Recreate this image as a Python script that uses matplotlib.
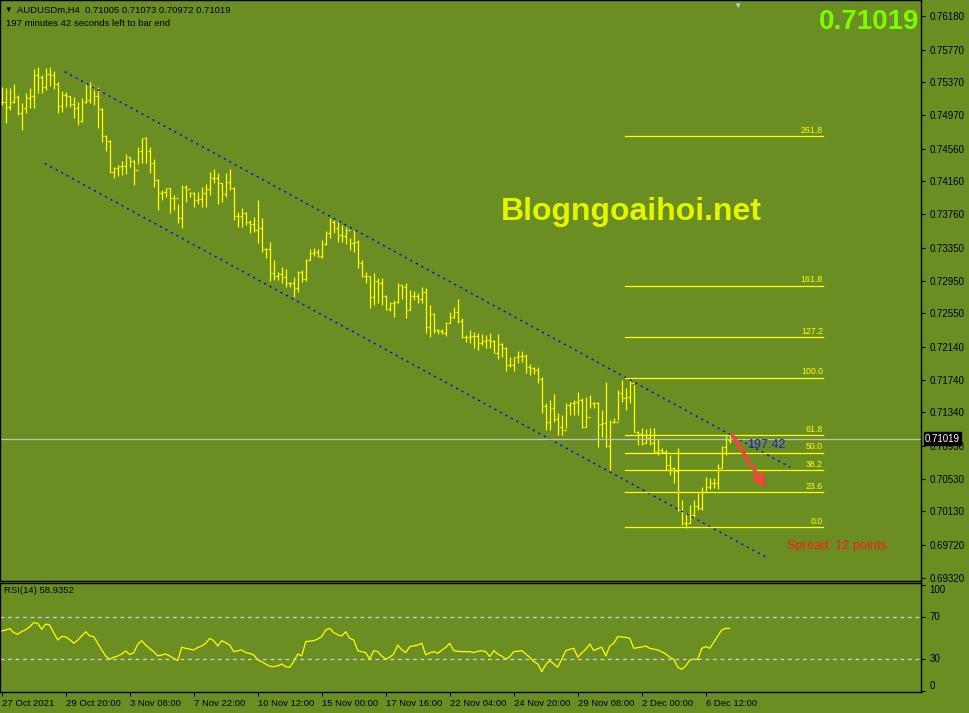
import numpy as np
import matplotlib
matplotlib.use("Agg")
import matplotlib.pyplot as plt
import matplotlib.patheffects as pe

plt.rcParams['font.family'] = ['Liberation Sans', 'DejaVu Sans']

# header info
symbol = "AUDUSDm,H4"
last_open, last_high, last_low, last_close = 0.71005, 0.71073, 0.70972, 0.71019
bar_timer = "197 minutes 42 seconds left to bar end"
rsi_period = 14
spread_text = "Spread: 12 points"
countdown = "197:42"
watermark = "Blogngoaihoi.net"

# H4 bars
high = [0.7531, 0.7530, 0.7530, 0.7535, 0.7522, 0.7512, 0.7524, 0.7530, 0.7553, 0.7556,
        0.7546, 0.7554, 0.7556, 0.7551, 0.7537, 0.7526, 0.7525, 0.7520, 0.7519, 0.7513,
        0.7518, 0.7535, 0.7537, 0.7528, 0.7531, 0.7506, 0.7473, 0.7467, 0.7434, 0.7436,
        0.7441, 0.7450, 0.7446, 0.7442, 0.7458, 0.7469, 0.7470, 0.7458, 0.7443, 0.7419,
        0.7406, 0.7408, 0.7408, 0.7399, 0.7389, 0.7412, 0.7412, 0.7403, 0.7403, 0.7403,
        0.7409, 0.7413, 0.7427, 0.7431, 0.7426, 0.7414, 0.7426, 0.7431, 0.7409, 0.7379,
        0.7384, 0.7379, 0.7369, 0.7373, 0.7393, 0.7371, 0.7335, 0.7342, 0.7320, 0.7305,
        0.7311, 0.7309, 0.7293, 0.7299, 0.7307, 0.7308, 0.7321, 0.7333, 0.7335, 0.7333,
        0.7345, 0.7355, 0.7371, 0.7369, 0.7368, 0.7363, 0.7360, 0.7347, 0.7357, 0.7345,
        0.7320, 0.7305, 0.7301, 0.7304, 0.7298, 0.7298, 0.7277, 0.7269, 0.7271, 0.7292,
        0.7290, 0.7292, 0.7283, 0.7282, 0.7280, 0.7287, 0.7286, 0.7265, 0.7255, 0.7236,
        0.7236, 0.7244, 0.7256, 0.7263, 0.7273, 0.7249, 0.7228, 0.7235, 0.7232, 0.7231,
        0.7230, 0.7228, 0.7231, 0.7222, 0.7230, 0.7219, 0.7214, 0.7202, 0.7202, 0.7209,
        0.7209, 0.7205, 0.7193, 0.7190, 0.7190, 0.7177, 0.7145, 0.7149, 0.7157, 0.7133,
        0.7131, 0.7145, 0.7147, 0.7149, 0.7159, 0.7152, 0.7153, 0.7155, 0.7147, 0.7147,
        0.7137, 0.7171, 0.7125, 0.7127, 0.7161, 0.7174, 0.7164, 0.7174, 0.7168, 0.7111,
        0.7115, 0.7114, 0.7115, 0.7115, 0.7102, 0.7090, 0.7088, 0.7082, 0.7067, 0.7090,
        0.7027, 0.7011, 0.7021, 0.7027, 0.7035, 0.7043, 0.7055, 0.7054, 0.7054, 0.7071,
        0.7093, 0.7106, 0.71073]
low = [0.7509, 0.7487, 0.7503, 0.7512, 0.7497, 0.7479, 0.7500, 0.7506, 0.7506, 0.7524,
       0.7524, 0.7528, 0.7533, 0.7529, 0.7500, 0.7501, 0.7507, 0.7507, 0.7493, 0.7485,
       0.7489, 0.7512, 0.7512, 0.7509, 0.7481, 0.7464, 0.7453, 0.7426, 0.7420, 0.7423,
       0.7424, 0.7425, 0.7434, 0.7412, 0.7437, 0.7438, 0.7438, 0.7426, 0.7409, 0.7381,
       0.7393, 0.7397, 0.7377, 0.7381, 0.7365, 0.7359, 0.7391, 0.7397, 0.7385, 0.7389,
       0.7385, 0.7385, 0.7399, 0.7414, 0.7389, 0.7391, 0.7397, 0.7406, 0.7369, 0.7360,
       0.7360, 0.7363, 0.7353, 0.7354, 0.7341, 0.7330, 0.7323, 0.7294, 0.7296, 0.7296,
       0.7292, 0.7287, 0.7287, 0.7275, 0.7281, 0.7293, 0.7294, 0.7320, 0.7325, 0.7324,
       0.7323, 0.7338, 0.7347, 0.7353, 0.7342, 0.7342, 0.7340, 0.7332, 0.7330, 0.7310,
       0.7299, 0.7292, 0.7261, 0.7265, 0.7268, 0.7265, 0.7259, 0.7258, 0.7250, 0.7268,
       0.7273, 0.7249, 0.7259, 0.7271, 0.7268, 0.7268, 0.7231, 0.7226, 0.7231, 0.7230,
       0.7230, 0.7227, 0.7243, 0.7249, 0.7243, 0.7225, 0.7220, 0.7219, 0.7212, 0.7210,
       0.7216, 0.7212, 0.7213, 0.7206, 0.7199, 0.7202, 0.7185, 0.7189, 0.7184, 0.7194,
       0.7196, 0.7182, 0.7180, 0.7181, 0.7170, 0.7133, 0.7113, 0.7113, 0.7122, 0.7106,
       0.7106, 0.7115, 0.7131, 0.7131, 0.7131, 0.7115, 0.7116, 0.7139, 0.7139, 0.7092,
       0.7104, 0.7092, 0.7064, 0.7121, 0.7125, 0.7147, 0.7137, 0.7145, 0.7110, 0.7094,
       0.7094, 0.7096, 0.7094, 0.7084, 0.7082, 0.7084, 0.7064, 0.7058, 0.7048, 0.7013,
       0.6997, 0.6993, 0.6999, 0.7006, 0.7015, 0.7015, 0.7037, 0.7040, 0.7042, 0.7040,
       0.7066, 0.7082, 0.70972]
close = [0.7513, 0.7507, 0.7513, 0.7519, 0.7500, 0.7506, 0.7518, 0.7520, 0.7546, 0.7544,
         0.7531, 0.7547, 0.7546, 0.7535, 0.7508, 0.7522, 0.7520, 0.7511, 0.7506, 0.7490,
         0.7513, 0.7515, 0.7533, 0.7520, 0.7504, 0.7471, 0.7465, 0.7427, 0.7432, 0.7435,
         0.7435, 0.7446, 0.7441, 0.7430, 0.7453, 0.7469, 0.7453, 0.7438, 0.7418, 0.7402,
         0.7403, 0.7408, 0.7396, 0.7396, 0.7371, 0.7409, 0.7407, 0.7402, 0.7393, 0.7394,
         0.7402, 0.7407, 0.7420, 0.7420, 0.7414, 0.7401, 0.7415, 0.7408, 0.7374, 0.7374,
         0.7377, 0.7366, 0.7364, 0.7357, 0.7359, 0.7333, 0.7333, 0.7304, 0.7301, 0.7303,
         0.7299, 0.7292, 0.7292, 0.7286, 0.7305, 0.7297, 0.7320, 0.7329, 0.7330, 0.7325,
         0.7340, 0.7353, 0.7366, 0.7359, 0.7351, 0.7349, 0.7357, 0.7341, 0.7342, 0.7316,
         0.7300, 0.7301, 0.7275, 0.7294, 0.7292, 0.7276, 0.7260, 0.7268, 0.7269, 0.7289,
         0.7287, 0.7259, 0.7276, 0.7276, 0.7272, 0.7281, 0.7238, 0.7254, 0.7235, 0.7233,
         0.7231, 0.7243, 0.7250, 0.7256, 0.7245, 0.7226, 0.7226, 0.7227, 0.7227, 0.7219,
         0.7221, 0.7222, 0.7221, 0.7206, 0.7218, 0.7212, 0.7192, 0.7192, 0.7202, 0.7203,
         0.7203, 0.7189, 0.7188, 0.7186, 0.7175, 0.7142, 0.7122, 0.7139, 0.7126, 0.7116,
         0.7113, 0.7143, 0.7145, 0.7147, 0.7149, 0.7116, 0.7128, 0.7145, 0.7145, 0.7120,
         0.7121, 0.7093, 0.7122, 0.7122, 0.7158, 0.7152, 0.7153, 0.7170, 0.7110, 0.7107,
         0.7096, 0.7103, 0.7097, 0.7086, 0.7088, 0.7086, 0.7070, 0.7066, 0.7062, 0.7015,
         0.6999, 0.6999, 0.7009, 0.7020, 0.7017, 0.7037, 0.7043, 0.7048, 0.7048, 0.7066,
         0.7092, 0.7103, 0.71019]
rsi = [56.5, 57.5, 58.8, 55.0, 53.5, 56.0, 57.8, 60.5, 64.4, 63.8,
       58.1, 63.1, 62.2, 55.0, 48.1, 51.5, 51.0, 48.5, 45.0, 48.0,
       52.0, 55.9, 51.9, 51.3, 45.0, 38.8, 33.0, 30.0, 31.9, 33.0,
       35.0, 37.8, 34.5, 36.0, 44.0, 47.5, 43.4, 40.0, 37.2, 33.1,
       34.0, 35.0, 33.1, 31.0, 28.8, 41.3, 40.3, 39.5, 38.8, 41.0,
       42.5, 45.0, 49.7, 47.5, 42.5, 47.5, 45.5, 43.4, 37.2, 38.0,
       38.8, 36.3, 35.5, 34.1, 29.4, 27.8, 25.5, 23.5, 23.1, 23.8,
       25.6, 23.1, 22.5, 28.0, 35.0, 33.1, 46.6, 47.0, 47.5, 49.0,
       51.3, 57.5, 59.1, 55.0, 53.0, 51.9, 55.9, 49.7, 48.1, 38.1,
       37.0, 36.3, 30.0, 38.1, 37.2, 33.1, 30.0, 32.0, 35.0, 43.4,
       39.0, 36.3, 41.9, 42.5, 43.4, 45.0, 34.1, 36.0, 37.2, 35.6,
       38.5, 41.3, 45.0, 38.1, 37.5, 37.2, 37.2, 37.2, 36.3, 37.5,
       38.1, 37.2, 32.5, 38.1, 35.0, 33.0, 30.0, 32.5, 37.2, 37.5,
       38.1, 35.0, 31.9, 28.0, 25.6, 18.4, 25.0, 28.8, 25.6, 22.5,
       30.0, 38.1, 39.4, 40.3, 31.9, 36.0, 39.4, 44.4, 38.1, 40.0,
       41.3, 33.1, 42.5, 45.0, 51.3, 51.0, 50.6, 49.7, 40.3, 40.9,
       41.5, 42.5, 40.3, 39.5, 38.8, 37.0, 35.0, 31.9, 30.0, 22.5,
       20.6, 23.8, 29.4, 30.0, 30.0, 40.3, 41.9, 40.3, 46.0, 52.0,
       57.5, 59.1, 58.9352]

time_labels = ["27 Oct 2021", "29 Oct 20:00", "3 Nov 08:00", "7 Nov 22:00", "10 Nov 12:00",
               "15 Nov 00:00", "17 Nov 16:00", "22 Nov 04:00", "24 Nov 20:00", "29 Nov 08:00",
               "2 Dec 00:00", "6 Dec 12:00"]
bars_per_label = 16

price_ticks = [0.76180, 0.75770, 0.75370, 0.74970, 0.74560, 0.74160, 0.73760, 0.73350,
               0.72950, 0.72550, 0.72140, 0.71740, 0.71340, 0.70930, 0.70530, 0.70130,
               0.69720, 0.69320]

# drawn objects: channel (bar, price) anchors, fibo
channel_upper = [(15.75, 0.7550), (197.1, 0.7067)]
channel_lower = [(10.75, 0.7438), (191.5, 0.6956)]
fib_low, fib_high = 0.69935, 0.71760
fib_levels = [0.0, 23.6, 38.2, 50.0, 61.8, 100.0, 127.2, 161.8, 261.8]
fib_bars = (155.8, 205.3)
arrow_from = (182.3, 0.7109)
arrow_to = (191.3, 0.7039)

bg = '#6B8E23'
bar_col = '#FFFF00'

W, H = 969, 713
fig = plt.figure(figsize=(W / 100, H / 100), dpi=100, facecolor=bg)
ax = fig.add_axes([0, (H - 581) / H, 921 / W, 581 / H], facecolor=bg)
ax_rsi = fig.add_axes([0, (H - 692) / H, 921 / W, 109 / H], facecolor=bg)

n = len(close)
x = np.arange(n)
opens = np.r_[close[0], close[:-1]]
opens[-1] = last_open

ax.vlines(x, low, high, color=bar_col, lw=0.9)
ax.hlines(opens, x - 0.35, x, color=bar_col, lw=0.9)
ax.hlines(close, x, x + 0.35, color=bar_col, lw=0.9)

# channel
for line in (channel_upper, channel_lower):
    (x0, y0), (x1, y1) = line
    ax.plot([x0, x1], [y0, y1], color='#0000FF', lw=1.0, linestyle=(0, (1.5, 3)))

# fibonacci
for lev in fib_levels:
    p = fib_low + (fib_high - fib_low) * lev / 100
    ax.plot(fib_bars, [p, p], color=bar_col, lw=0.9)
    ax.text(fib_bars[1], p + 0.00018, f"{lev:.1f}", color=bar_col, fontsize=6.3,
            ha='right', va='bottom')

# current price line
ax.axhline(last_close, color='#C0C0C0', lw=0.9)

# arrow
ax.annotate('', xy=arrow_to, xytext=arrow_from,
            arrowprops=dict(arrowstyle='-|>,head_length=0.7,head_width=0.35', color='#F0463C', lw=2.6,
                            path_effects=[pe.withSimplePatchShadow(offset=(1.5, -1.5), alpha=0.5)]))
ax.text(186.2, 0.7094, countdown, color='#1A1AE6', fontsize=9, va='center', ha='left')
ax.text(196.3, 0.6971, spread_text, color='#FF1A1A', fontsize=9.2, va='center', ha='left')

ax.text(124.9, 0.7369, watermark, color='#E4F500', fontsize=23, fontweight='bold',
        ha='left', va='baseline')

ax.set_xlim(-0.425, 229.8)
ax.set_ylim(0.69281, 0.76375)
ax.set_xticks([])
ax.yaxis.tick_right()
ax.set_yticks(price_ticks, [f"{v:.5f}" for v in price_ticks])
ax.tick_params(axis='y', length=3, width=0.8, pad=3, labelsize=7, colors='black')
for s in ax.spines.values():
    s.set_color('black')
    s.set_linewidth(1)

ax.text(1.004, last_close, f"{last_close:.5f}", transform=ax.get_yaxis_transform(),
        color='white', fontsize=7, va='center', ha='left', zorder=10,
        bbox=dict(boxstyle='square,pad=0.12', fc='black', ec='black'))

# big price at top right
fig.text(919 / W, 1 - 9 / H, f"{last_close:.5f}", color='#7CFC00', fontsize=20,
         fontweight='bold', ha='right', va='top')

# header
fig.text(4 / W, 1 - 10 / H, "\u25bc", color='black', fontsize=5.5, va='center', ha='left')
fig.text(17 / W, 1 - 10 / H,
         f"{symbol}  {last_open:.5f} {last_high:.5f} {last_low:.5f} {last_close:.5f}",
         color='black', fontsize=6.8, va='center', ha='left')
fig.text(6 / W, 1 - 23 / H, bar_timer, color='black', fontsize=6.8, va='center', ha='left')
fig.text(737 / W, 1 - 6 / H, "\u25bc", color='#C8C8C8', fontsize=6, va='center', ha='center')

# RSI panel
ax_rsi.plot(x, rsi, color=bar_col, lw=0.9)
for lvl in (70, 30):
    ax_rsi.axhline(lvl, color='#D3D3D3', lw=0.9, linestyle=(0, (3, 3)))
ax_rsi.set_xlim(-0.425, 229.8)
ax_rsi.set_ylim(-0.7, 101.6)
ax_rsi.yaxis.tick_right()
ax_rsi.set_yticks([0, 30, 70, 100], ['0', '30', '70', '100'])
ax_rsi.tick_params(axis='y', length=3, width=0.8, pad=3, labelsize=7, colors='black')
for lbl, va in zip(ax_rsi.get_yticklabels(), ['bottom', 'center', 'center', 'top']):
    lbl.set_va(va)
ax_rsi.set_xticks(np.arange(len(time_labels)) * bars_per_label, time_labels)
ax_rsi.tick_params(axis='x', length=3, width=0.8, pad=2, labelsize=6.8, colors='black')
for lbl in ax_rsi.get_xticklabels():
    lbl.set_ha('left')
for s in ax_rsi.spines.values():
    s.set_color('black')
    s.set_linewidth(1)
ax_rsi.text(4 / 921, 0.93, f"RSI({rsi_period}) {rsi[-1]:.4f}", transform=ax_rsi.transAxes,
            color='black', fontsize=6.8, va='center', ha='left')

fig.savefig('out.png', dpi=100, facecolor=bg)
